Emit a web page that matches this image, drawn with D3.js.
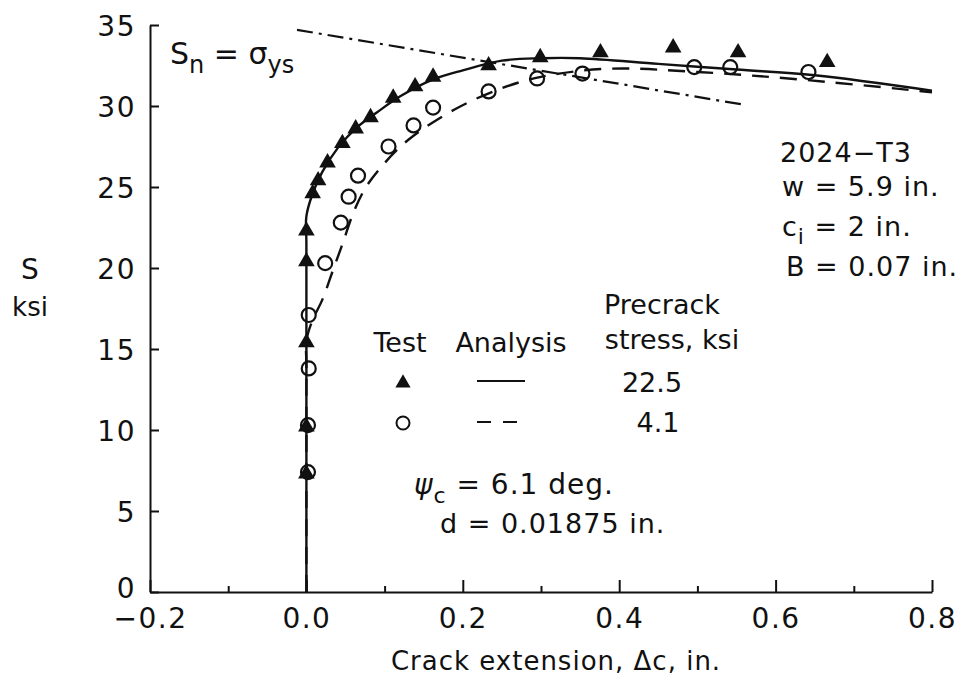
<!DOCTYPE html>
<html>
<head>
<meta charset="utf-8">
<script src="https://cdn.jsdelivr.net/npm/d3@7"></script>
<style>
  body { margin: 0; background: #fff; }
  svg { display: block; }
  text { font-family: "DejaVu Sans", sans-serif; fill: #111; }
</style>
</head>
<body>
<script>
// axis ticks
const xMajor = [-0.2, 0, 0.2, 0.4, 0.6, 0.8]
const xMinor = [-0.1, 0.1, 0.3, 0.5, 0.7]
const yTicks = [0, 5, 10, 15, 20, 25, 30, 35]

// test, precrack stress 22.5 ksi (filled triangles)
const triX = [0, 0, 0, 0, 0, 0.008, 0.015, 0.027, 0.046, 0.063, 0.082, 0.111, 0.139, 0.162, 0.233, 0.299, 0.376, 0.469, 0.552, 0.666]
const triS = [7.3, 10.2, 15.4, 20.4, 22.3, 24.6, 25.4, 26.5, 27.7, 28.6, 29.3, 30.5, 31.2, 31.8, 32.5, 33.0, 33.3, 33.6, 33.3, 32.7]

// test, precrack stress 4.1 ksi (open circles)
const cirX = [0.002, 0.002, 0.003, 0.003, 0.024, 0.044, 0.054, 0.066, 0.105, 0.137, 0.162, 0.233, 0.295, 0.353, 0.496, 0.542, 0.642]
const cirS = [7.4, 10.3, 13.8, 17.1, 20.3, 22.8, 24.4, 25.7, 27.5, 28.8, 29.9, 30.9, 31.7, 32.0, 32.4, 32.4, 32.1]

// analysis, 22.5 ksi (solid)
const solidX = [0, 0, 0, 0.008, 0.02, 0.04, 0.065, 0.09, 0.12, 0.16, 0.2, 0.25, 0.3, 0.35, 0.45, 0.55, 0.65, 0.8]
const solidS = [0, 21.5, 23.2, 24.6, 25.9, 27.4, 28.7, 29.6, 30.6, 31.6, 32.2, 32.8, 32.95, 32.95, 32.6, 32.25, 31.9, 30.95]

// analysis, 4.1 ksi (dashed)
const dashX = [0, 0, 0, 0.008, 0.02, 0.035, 0.047, 0.06, 0.075, 0.095, 0.13, 0.19, 0.25, 0.3, 0.385, 0.5, 0.64, 0.8]
const dashS = [0, 14, 15.5, 16.8, 18.0, 20.0, 21.6, 23.4, 24.9, 26.2, 27.9, 29.8, 31.1, 31.8, 32.3, 32.1, 31.6, 30.85]

// net-section stress = yield stress (dash-dot)
const ysX = [-0.012, 0.557]
const ysS = [34.7, 30.1]

const width = 976
const height = 692

const x = d3.scaleLinear().domain([-0.2, 0.8]).range([150, 932])
const y = d3.scaleLinear().domain([0, 35]).range([592, 25])

const svg = d3.select('body').append('svg')
  .attr('width', width)
  .attr('height', height)

// axes
const gx = svg.append('g').attr('transform', `translate(0,${y(0)})`)
gx.call(d3.axisBottom(x).tickValues(xMajor).tickSizeInner(-12).tickSizeOuter(0).tickPadding(16)
  .tickFormat(d => d3.format('.1f')(d).replace('-', '\u2212')))
svg.append('g').attr('transform', `translate(0,${y(0)})`)
  .call(d3.axisBottom(x).tickValues(xMinor).tickSizeInner(-6).tickSizeOuter(0).tickFormat(''))
  .call(g => g.select('.domain').remove())

const gy = svg.append('g').attr('transform', `translate(${x(-0.2)},0)`)
gy.call(d3.axisLeft(y).tickValues(yTicks).tickSizeInner(-9).tickSizeOuter(0).tickPadding(14))

svg.selectAll('.domain, .tick line').attr('stroke', '#111').attr('stroke-width', 2)
svg.selectAll('.tick text')
  .style('font-size', '28px')
  .style('letter-spacing', '1.5px')
  .attr('fill', '#111')
gy.selectAll('.tick text').attr('dy', '0.36em')
gy.selectAll('.tick text').filter(d => d === 0).attr('dy', '0.2em')
gx.selectAll('.tick text').attr('dy', '0.72em')

// axis titles
svg.append('text').attr('x', 30).attr('y', 279).attr('text-anchor', 'middle')
  .style('font-size', '28px').text('S')
svg.append('text').attr('x', 30).attr('y', 316).attr('text-anchor', 'middle')
  .style('font-size', '26px').text('ksi')
svg.append('text').attr('x', 556).attr('y', 670).attr('text-anchor', 'middle')
  .style('font-size', '26px').style('letter-spacing', '1px').text('Crack extension, \u0394c, in.')

// curves
const line = d3.line()
  .x(d => x(d[0]))
  .y(d => y(d[1]))
  .curve(d3.curveCatmullRom.alpha(0.5))

svg.append('path')
  .datum(ysX.map((v, i) => [v, ysS[i]]))
  .attr('d', d3.line().x(d => x(d[0])).y(d => y(d[1])))
  .attr('fill', 'none').attr('stroke', '#111').attr('stroke-width', 2.2)
  .attr('stroke-dasharray', '16,6,3,6')

svg.append('path')
  .datum(dashX.map((v, i) => [v, dashS[i]]))
  .attr('d', line)
  .attr('fill', 'none').attr('stroke', '#111').attr('stroke-width', 2.4)
  .attr('stroke-dasharray', '17,11')

svg.append('path')
  .datum(solidX.map((v, i) => [v, solidS[i]]))
  .attr('d', line)
  .attr('fill', 'none').attr('stroke', '#111').attr('stroke-width', 2.4)

// test points
const tri = d3.symbol().type(d3.symbolTriangle).size(120)
svg.append('g').selectAll('circle')
  .data(cirX.map((v, i) => [v, cirS[i]]))
  .join('circle')
  .attr('cx', d => x(d[0]))
  .attr('cy', d => y(d[1]))
  .attr('r', 7)
  .attr('fill', 'none')
  .attr('stroke', '#111')
  .attr('stroke-width', 2.2)

svg.append('g').selectAll('path')
  .data(triX.map((v, i) => [v, triS[i]]))
  .join('path')
  .attr('d', tri)
  .attr('transform', d => `translate(${x(d[0])},${y(d[1])})`)
  .attr('fill', '#111')

// legend
const leg = svg.append('g').style('font-size', '27px')
leg.append('text').attr('x', 662).attr('y', 314).attr('text-anchor', 'middle').text('Precrack')
leg.append('text').attr('x', 400).attr('y', 352).attr('text-anchor', 'middle').text('Test')
leg.append('text').attr('x', 511).attr('y', 352).attr('text-anchor', 'middle').text('Analysis')
leg.append('text').attr('x', 672).attr('y', 349).attr('text-anchor', 'middle').text('stress, ksi')
leg.append('text').attr('x', 652).attr('y', 392).attr('text-anchor', 'middle').text('22.5')
leg.append('text').attr('x', 658).attr('y', 432).attr('text-anchor', 'middle').text('4.1')
leg.append('path').attr('d', d3.symbol().type(d3.symbolTriangle).size(100))
  .attr('transform', 'translate(403,383)').attr('fill', '#111')
leg.append('line').attr('x1', 477).attr('x2', 525).attr('y1', 381).attr('y2', 381)
  .attr('stroke', '#111').attr('stroke-width', 2.2)
leg.append('circle').attr('cx', 403).attr('cy', 423).attr('r', 6.5)
  .attr('fill', 'none').attr('stroke', '#111').attr('stroke-width', 2)
leg.append('line').attr('x1', 477).attr('x2', 520).attr('y1', 422).attr('y2', 422)
  .attr('stroke', '#111').attr('stroke-width', 2.2).attr('stroke-dasharray', '14,12')

// annotations
const sn = svg.append('text').attr('x', 170).attr('y', 64).style('font-size', '30px')
sn.append('tspan').text('S')
sn.append('tspan').attr('dy', 9).style('font-size', '24px').text('n')
sn.append('tspan').attr('dy', -9).text(' = \u03c3')
sn.append('tspan').attr('dy', 9).style('font-size', '24px').text('ys')

const spec = svg.append('g').style('font-size', '27px').style('letter-spacing', '1px')
spec.append('text').attr('x', 780).attr('y', 162).text('2024\u2212T3')
spec.append('text').attr('x', 782).attr('y', 196).text('w = 5.9 in.')
const ci = spec.append('text').attr('x', 782).attr('y', 236)
ci.append('tspan').text('c')
ci.append('tspan').attr('dy', 8).style('font-size', '22px').text('i')
ci.append('tspan').attr('dy', -8).text(' = 2 in.')
spec.append('text').attr('x', 786).attr('y', 276).text('B = 0.07 in.')

const psi = svg.append('text').attr('x', 414).attr('y', 494).style('font-size', '28px').style('letter-spacing', '1px')
psi.append('tspan').style('font-style', 'italic').text('\u03c8')
psi.append('tspan').attr('dy', 9).style('font-size', '22px').text('c')
psi.append('tspan').attr('dy', -9).text(' = 6.1 deg.')
svg.append('text').attr('x', 440).attr('y', 533).style('font-size', '27px').style('letter-spacing', '1px')
  .text('d = 0.01875 in.')
</script>
</body>
</html>
